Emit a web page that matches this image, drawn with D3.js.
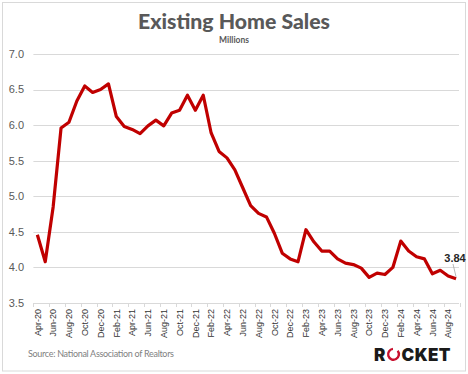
<!DOCTYPE html>
<html>
<head>
<meta charset="utf-8">
<script src="https://cdn.jsdelivr.net/npm/d3@7"></script>
<style>
  html, body { margin: 0; padding: 0; background: #fff; }
  svg { display: block; }
</style>
</head>
<body>
<svg id="chart" width="468" height="374"></svg>
<script>
const months = ["Apr-20","May-20","Jun-20","Jul-20","Aug-20","Sep-20","Oct-20","Nov-20","Dec-20",
  "Jan-21","Feb-21","Mar-21","Apr-21","May-21","Jun-21","Jul-21","Aug-21","Sep-21","Oct-21","Nov-21","Dec-21",
  "Jan-22","Feb-22","Mar-22","Apr-22","May-22","Jun-22","Jul-22","Aug-22","Sep-22","Oct-22","Nov-22","Dec-22",
  "Jan-23","Feb-23","Mar-23","Apr-23","May-23","Jun-23","Jul-23","Aug-23","Sep-23","Oct-23","Nov-23","Dec-23",
  "Jan-24","Feb-24","Mar-24","Apr-24","May-24","Jun-24","Jul-24","Aug-24","Sep-24"];
const sales = [4.46,4.08,4.85,5.96,6.04,6.34,6.55,6.46,6.50,
  6.58,6.12,5.98,5.94,5.88,5.99,6.07,5.99,6.17,6.21,6.42,6.21,
  6.42,5.89,5.63,5.54,5.37,5.12,4.87,4.76,4.71,4.48,4.20,4.12,
  4.08,4.53,4.36,4.23,4.23,4.12,4.06,4.04,3.99,3.86,3.92,3.90,
  4.00,4.37,4.23,4.15,4.12,3.91,3.96,3.88,3.84];
const yTicks = [3.5,4.0,4.5,5.0,5.5,6.0,6.5,7.0];
const title = "Existing Home Sales";
const subtitle = "Millions";
const source = "Source: National Association of Realtors";
const lastLabel = "3.84";

(function draw() {
const svg = d3.select("#chart");

// frame
svg.append("rect").attr("x", 2.5).attr("y", 2.5).attr("width", 463).attr("height", 368.5)
  .attr("fill", "#fff").attr("stroke", "#d9d9d9").attr("stroke-width", 1);

const pL = 33.4, pR = 460, pT = 54, pB = 303;
const x = d3.scaleBand().domain(months).range([pL, pR]).paddingInner(0).paddingOuter(0);
const y = d3.scaleLinear().domain([3.5, 7.0]).range([pB, pT]);

// gridlines
svg.append("g").selectAll("line").data(yTicks).join("line")
  .attr("x1", pL).attr("x2", 459)
  .attr("y1", d => Math.round(y(d)) + 0.5).attr("y2", d => Math.round(y(d)) + 0.5)
  .attr("stroke", "#d9d9d9").attr("stroke-width", 1);

// y labels
svg.append("g").selectAll("text").data(yTicks).join("text")
  .attr("x", 24).attr("y", d => y(d)).attr("dy", "0.35em")
  .attr("text-anchor", "end")
  .attr("font-family", "Liberation Sans, Arial, sans-serif").attr("font-size", 11)
  .attr("fill", "#595959")
  .text(d => d.toFixed(1));

// x ticks (between categories, every 2)
const step = x.step();
const tickIdx = d3.range(0, months.length + 1, 2);
svg.append("g").selectAll("line").data(tickIdx).join("line")
  .attr("x1", i => Math.round(pL + i * step) + 0.5).attr("x2", i => Math.round(pL + i * step) + 0.5)
  .attr("y1", pB).attr("y2", pB + 4)
  .attr("stroke", "#d9d9d9").attr("stroke-width", 1);

// x labels
const labelMonths = months.filter((m, i) => i % 2 === 0);
svg.append("g").selectAll("text").data(labelMonths).join("text")
  .attr("transform", d => `translate(${x(d) + x.bandwidth() / 2},309) rotate(-90)`)
  .attr("dy", "0.35em")
  .attr("text-anchor", "end")
  .attr("font-family", "Liberation Sans, Arial, sans-serif").attr("font-size", 9)
  .attr("fill", "#333333")
  .text(d => d);

// line
const line = d3.line()
  .x((d, i) => x(months[i]) + x.bandwidth() / 2)
  .y(d => y(d));
svg.append("path").datum(sales)
  .attr("d", line)
  .attr("fill", "none").attr("stroke", "#c00000").attr("stroke-width", 3.2)
  .attr("stroke-linejoin", "round");

// last value label and leader
const lx = x(months[months.length - 1]) + x.bandwidth() / 2;
const ly = y(sales[sales.length - 1]);
svg.append("line").attr("x1", 453).attr("y1", 264).attr("x2", lx).attr("y2", ly - 2)
  .attr("stroke", "#a6a6a6").attr("stroke-width", 0.8);
svg.append("text").attr("x", 455).attr("y", 262)
  .attr("text-anchor", "middle")
  .attr("font-family", "Liberation Sans, Arial, sans-serif").attr("font-weight", "bold").attr("font-size", 11)
  .attr("fill", "#262626").text(lastLabel);

// titles
svg.append("text").attr("x", 234).attr("y", 29).attr("text-anchor", "middle")
  .attr("font-family", "Lato, 'Open Sans', sans-serif").attr("font-weight", "900").attr("font-size", 20)
  .attr("fill", "#595959").attr("textLength", 192).attr("lengthAdjust", "spacingAndGlyphs").text(title);
svg.append("text").attr("x", 234).attr("y", 42.5).attr("text-anchor", "middle")
  .attr("font-family", "Lato, 'Open Sans', sans-serif").attr("font-weight", "bold").attr("font-size", 8.5)
  .attr("fill", "#595959").text(subtitle);

// source
svg.append("text").attr("x", 28).attr("y", 357)
  .attr("font-family", "Lato, 'Open Sans', sans-serif").attr("font-size", 9)
  .attr("fill", "#7f7f7f").attr("textLength", 146).text(source);

// ROCKET logo
const logo = svg.append("g");
logo.append("text").attr("x", 374).attr("y", 360.7)
  .attr("font-family", "Inter, 'Open Sans', sans-serif").attr("font-weight", "900").attr("font-size", 17)
  .attr("fill", "#1a1a1a").text("R");
const arc = d3.arc().innerRadius(4.2).outerRadius(6.6)
  .startAngle(Math.PI * 0.28).endAngle(Math.PI * 2 - 0.1);
logo.append("path").attr("d", arc()).attr("transform", "translate(393.5,354.3)")
  .attr("fill", "#c8102e");
logo.append("text").attr("x", 401.5).attr("y", 360.7)
  .attr("font-family", "Inter, 'Open Sans', sans-serif").attr("font-weight", "900").attr("font-size", 17)
  .attr("fill", "#1a1a1a").attr("textLength", 49).text("CKET");
})();
</script>
</body>
</html>
